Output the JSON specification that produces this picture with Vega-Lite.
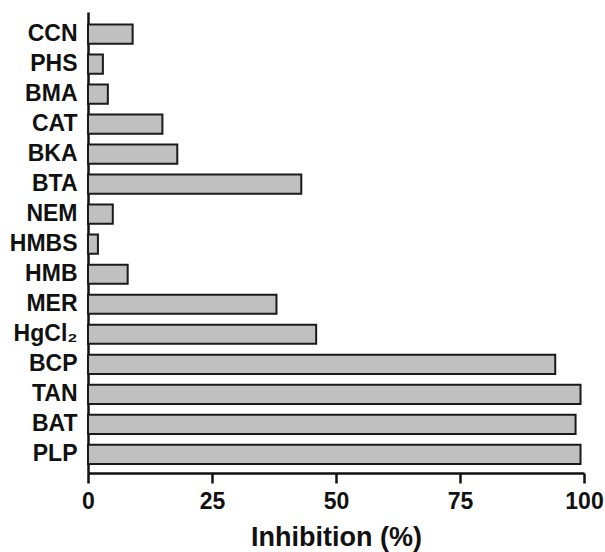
{
  "$schema": "https://vega.github.io/schema/vega-lite/v6.json",
  "width": 496,
  "height": 461,
  "autosize": "none",
  "padding": {"left": 88, "top": 12, "right": 21, "bottom": 79},
  "background": "white",
  "data": {
    "values": [
      {"compound": "CCN", "inhibition": 9},
      {"compound": "PHS", "inhibition": 3},
      {"compound": "BMA", "inhibition": 4},
      {"compound": "CAT", "inhibition": 15},
      {"compound": "BKA", "inhibition": 18},
      {"compound": "BTA", "inhibition": 43},
      {"compound": "NEM", "inhibition": 5},
      {"compound": "HMBS", "inhibition": 2},
      {"compound": "HMB", "inhibition": 8},
      {"compound": "MER", "inhibition": 38},
      {"compound": "HgCl₂", "inhibition": 46},
      {"compound": "BCP", "inhibition": 94.2},
      {"compound": "TAN", "inhibition": 99.3},
      {"compound": "BAT", "inhibition": 98.3},
      {"compound": "PLP", "inhibition": 99.3}
    ]
  },
  "mark": {"type": "bar", "fill": "#c0c0c0", "stroke": "#1a1a1a", "strokeWidth": 2},
  "encoding": {
    "y": {
      "field": "compound",
      "type": "nominal",
      "sort": null,
      "scale": {"paddingInner": 0.36, "paddingOuter": 0.36, "align": 0.58},
      "axis": {
        "title": null,
        "ticks": false,
        "domainColor": "#111",
        "domainWidth": 2.5,
        "labelFont": "Liberation Sans",
        "labelFontWeight": "bold",
        "labelFontSize": 23,
        "labelColor": "#111",
        "labelPadding": 11
      }
    },
    "x": {
      "field": "inhibition",
      "type": "quantitative",
      "scale": {"domain": [0, 100], "nice": false},
      "axis": {
        "title": "Inhibition (%)",
        "values": [0, 25, 50, 75, 100],
        "grid": false,
        "domainColor": "#111",
        "domainWidth": 2.5,
        "tickColor": "#111",
        "tickWidth": 2.5,
        "tickSize": 10,
        "labelFont": "Liberation Sans",
        "labelFontWeight": "bold",
        "labelFontSize": 23,
        "labelColor": "#111",
        "labelPadding": 7,
        "labelFlush": false,
        "titleFont": "Liberation Sans",
        "titleFontWeight": "bold",
        "titleFontSize": 27,
        "titleColor": "#111",
        "titlePadding": 11
      }
    }
  },
  "config": {"view": {"stroke": null}}
}
